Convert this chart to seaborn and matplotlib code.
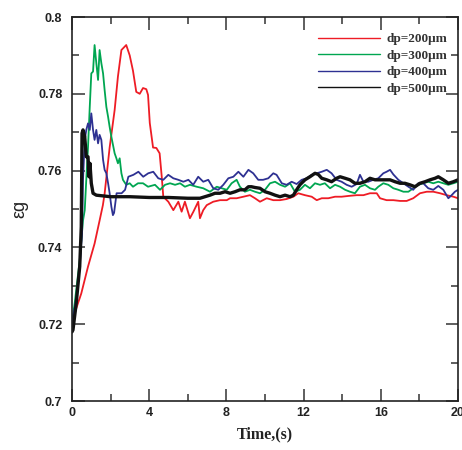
import numpy as np
import pandas as pd
import seaborn as sns
import matplotlib
matplotlib.use("Agg")
import matplotlib.pyplot as plt
from matplotlib.ticker import MultipleLocator

# Gas volume fraction vs time for four particle diameters
t_200 = [0, 0.14, 0.48, 0.83, 1.17, 1.43, 1.6, 1.69, 1.95, 2.21, 2.38, 2.56, 2.81, 2.99, 3.16,
         3.33, 3.51, 3.68, 3.85, 3.94, 4.03, 4.2, 4.37, 4.54, 4.65, 4.73, 4.99, 5.25, 5.51, 5.68,
         5.85, 6.11, 6.29, 6.54, 6.63, 6.8, 6.98, 7.32, 7.67, 8.02, 8.19, 8.53, 8.88, 9.22, 9.48,
         9.74, 10.09, 10.43, 10.78, 11.12, 11.47, 11.72, 12.07, 12.42, 12.68, 12.94, 13.28, 13.63,
         13.97, 14.32, 14.75, 15.1, 15.44, 15.79, 15.96, 16.3, 16.65, 17.0, 17.34, 17.68, 18.03,
         18.38, 18.72, 19.07, 19.41, 19.76, 20.0]
eg_200 = [0.7205, 0.7229, 0.728, 0.735, 0.741, 0.747, 0.751, 0.754, 0.766, 0.7758, 0.7845, 0.7914,
          0.7927, 0.790, 0.786, 0.7805, 0.780, 0.7815, 0.7812, 0.7797, 0.7724, 0.766, 0.7659,
          0.7645, 0.7584, 0.7532, 0.7519, 0.7497, 0.7519, 0.7493, 0.7519, 0.7476, 0.7493, 0.7519,
          0.7476, 0.7497, 0.751, 0.7519, 0.7523, 0.7523, 0.7528, 0.7528, 0.7532, 0.7536, 0.7528,
          0.7519, 0.7528, 0.7523, 0.7523, 0.7526, 0.7532, 0.7541, 0.7536, 0.7532, 0.7523, 0.7528,
          0.7528, 0.7532, 0.7532, 0.7534, 0.7536, 0.7536, 0.7541, 0.7541, 0.7528, 0.7523, 0.7523,
          0.7521, 0.7521, 0.7528, 0.7541, 0.7545, 0.7545, 0.7541, 0.7536, 0.7532, 0.7528]

t_300 = [0, 0.14, 0.40, 0.57, 0.66, 0.74, 0.83, 0.92, 1.0, 1.09, 1.17, 1.26, 1.35, 1.43, 1.52,
         1.61, 1.69, 1.78, 1.87, 1.95, 2.04, 2.21, 2.30, 2.38, 2.47, 2.56, 2.64, 2.81, 2.99, 3.16,
         3.42, 3.68, 3.94, 4.3, 4.56, 4.82, 5.08, 5.34, 5.6, 5.85, 6.11, 6.46, 6.8, 7.15, 7.5,
         7.76, 8.02, 8.27, 8.53, 8.7, 8.96, 9.22, 9.48, 9.74, 10.0, 10.26, 10.52, 10.78, 11.04,
         11.3, 11.55, 11.81, 12.07, 12.33, 12.59, 12.85, 13.1, 13.37, 13.63, 13.89, 14.15, 14.4,
         14.66, 14.92, 15.18, 15.44, 15.7, 15.87, 16.13, 16.39, 16.65, 16.91, 17.17, 17.43, 17.68,
         17.94, 18.2, 18.46, 18.72, 18.98, 19.24, 19.5, 19.76, 20.0]
eg_300 = [0.7205, 0.7255, 0.7367, 0.747, 0.7497, 0.7576, 0.7662, 0.7766, 0.7853, 0.7858, 0.7927,
          0.788, 0.7836, 0.7914, 0.788, 0.7853, 0.781, 0.7766, 0.774, 0.7714, 0.7688, 0.7645,
          0.7632, 0.7619, 0.7632, 0.7593, 0.7576, 0.7563, 0.7567, 0.7558, 0.7567, 0.7567, 0.7558,
          0.7563, 0.755, 0.7563, 0.7567, 0.7563, 0.7567, 0.7558, 0.7563, 0.7558, 0.7554, 0.7545,
          0.7558, 0.7554, 0.755, 0.7567, 0.7576, 0.7558, 0.7545, 0.755, 0.7545, 0.7541, 0.755,
          0.7567, 0.7571, 0.7563, 0.7558, 0.7567, 0.7545, 0.755, 0.7563, 0.7554, 0.7567, 0.7563,
          0.7567, 0.7554, 0.7563, 0.7558, 0.755, 0.7545, 0.7541, 0.7558, 0.7563, 0.7554, 0.755,
          0.7558, 0.7567, 0.7563, 0.7554, 0.755, 0.7545, 0.7545, 0.7554, 0.7563, 0.7567, 0.7571,
          0.7567, 0.7571, 0.7567, 0.7563, 0.7567, 0.7571]

t_400 = [0, 0.22, 0.40, 0.52, 0.57, 0.66, 0.74, 0.83, 0.92, 1.0, 1.09, 1.17, 1.26, 1.35, 1.43,
         1.52, 1.61, 1.69, 1.78, 1.87, 1.95, 2.04, 2.12, 2.18, 2.31, 2.57, 2.75, 2.92, 3.18, 3.44,
         3.69, 3.95, 4.21, 4.47, 4.73, 4.99, 5.25, 5.51, 5.77, 6.03, 6.28, 6.54, 6.8, 7.06, 7.32,
         7.58, 7.84, 8.1, 8.36, 8.62, 8.88, 9.14, 9.39, 9.65, 9.9, 10.17, 10.43, 10.6, 10.87,
         11.12, 11.38, 11.64, 11.9, 12.16, 12.42, 12.68, 12.94, 13.2, 13.45, 13.71, 13.97, 14.23,
         14.49, 14.75, 14.92, 15.1, 15.35, 15.61, 15.87, 16.13, 16.3, 16.48, 16.65, 16.91, 17.17,
         17.43, 17.68, 17.94, 18.2, 18.46, 18.72, 18.98, 19.24, 19.5, 19.67, 19.84, 20.0]
eg_400 = [0.7205, 0.7263, 0.735, 0.7437, 0.7576, 0.768, 0.7706, 0.7723, 0.7706, 0.7749, 0.7706,
          0.768, 0.7706, 0.7671, 0.7693, 0.768, 0.7628, 0.7602, 0.7593, 0.7567, 0.7541, 0.7506,
          0.7484, 0.749, 0.7541, 0.7541, 0.755, 0.7584, 0.7589, 0.7597, 0.7584, 0.7593, 0.7597,
          0.758, 0.7576, 0.7589, 0.758, 0.7576, 0.7571, 0.7576, 0.7563, 0.7584, 0.7571, 0.7576,
          0.7554, 0.755, 0.7563, 0.758, 0.7584, 0.7597, 0.7584, 0.7602, 0.7593, 0.7576, 0.7576,
          0.758, 0.7593, 0.7589, 0.7567, 0.7563, 0.7571, 0.7565, 0.7576, 0.758, 0.7589, 0.7593,
          0.7597, 0.7602, 0.7593, 0.7576, 0.7571, 0.7563, 0.7558, 0.7565, 0.7589, 0.7571, 0.7571,
          0.7576, 0.758, 0.7593, 0.7597, 0.7602, 0.759, 0.7576, 0.7567, 0.7558, 0.755, 0.7567,
          0.7567, 0.7554, 0.755, 0.756, 0.755, 0.7528, 0.7536, 0.7545, 0.755]

t_500 = [0, 0.05, 0.22, 0.40, 0.48, 0.52, 0.57, 0.66, 0.74, 0.83, 0.88, 0.93, 1.0, 1.09, 1.26,
         2.0, 3.0, 4.0, 5.0, 6.0, 6.63, 6.89, 7.15, 7.41, 7.67, 7.93, 8.19, 8.45, 8.7, 8.96,
         9.14, 9.3, 9.48, 9.74, 10.0, 10.26, 10.52, 10.78, 11.04, 11.3, 11.47, 11.64, 11.81,
         12.07, 12.33, 12.59, 12.76, 12.94, 13.2, 13.45, 13.71, 13.89, 14.15, 14.4, 14.66, 14.92,
         15.18, 15.44, 15.7, 15.96, 16.22, 16.48, 16.74, 17.0, 17.25, 17.51, 17.77, 18.03, 18.29,
         18.55, 18.81, 18.98, 19.24, 19.5, 19.76, 20.0]
eg_500 = [0.718, 0.7185, 0.7255, 0.735, 0.7454, 0.7697, 0.7706, 0.7688, 0.7636, 0.7636, 0.7584,
          0.7619, 0.7567, 0.7541, 0.7536, 0.7532, 0.7532, 0.753, 0.753, 0.7528, 0.7528, 0.7532,
          0.7536, 0.7541, 0.7541, 0.7545, 0.7541, 0.7545, 0.755, 0.755, 0.7558, 0.7558, 0.7556,
          0.7554, 0.7545, 0.7541, 0.7536, 0.7532, 0.7536, 0.7532, 0.7536, 0.755, 0.7563, 0.7576,
          0.7584, 0.7593, 0.759, 0.758, 0.7576, 0.7571, 0.758, 0.7584, 0.758, 0.7576, 0.7567,
          0.7567, 0.7571, 0.758, 0.7576, 0.7576, 0.7576, 0.7576, 0.7571, 0.7567, 0.7567, 0.7563,
          0.7558, 0.7567, 0.7571, 0.7576, 0.758, 0.7584, 0.7576, 0.7567, 0.7571, 0.7576]

labels = ["dp=200\u03bcm", "dp=300\u03bcm", "dp=400\u03bcm", "dp=500\u03bcm"]
colors = ["#ee1c25", "#00a651", "#2e3192", "#111111"]
widths = [1.3, 1.3, 1.3, 2.4]

frames = []
for lab, tt, ee in zip(labels, [t_200, t_300, t_400, t_500], [eg_200, eg_300, eg_400, eg_500]):
    assert len(tt) == len(ee), lab
    frames.append(pd.DataFrame({"time": tt, "eg": ee, "case": lab}))
df = pd.concat(frames, ignore_index=True)

sns.set_style("ticks")
W, H = 462, 450
fig = plt.figure(figsize=(W / 100, H / 100), dpi=100)
ax = fig.add_axes([72 / W, 1 - 401 / H, (458 - 72) / W, (401 - 17) / H])

for lab, col, lw in zip(labels, colors, widths):
    sub = df[df["case"] == lab]
    sns.lineplot(data=sub, x="time", y="eg", ax=ax, color=col, linewidth=lw,
                 sort=False, estimator=None, label=lab)

ax.set_xlim(0, 20)
ax.set_ylim(0.7, 0.8)
ax.xaxis.set_major_locator(MultipleLocator(4))
ax.xaxis.set_minor_locator(MultipleLocator(2))
ax.yaxis.set_major_locator(MultipleLocator(0.02))
ax.yaxis.set_minor_locator(MultipleLocator(0.01))
ax.tick_params(which="both", direction="in", top=True, right=True, width=1.1, color="#333333")
ax.tick_params(which="major", length=9)
ax.tick_params(which="minor", length=5)
ax.tick_params(axis="y", pad=7)
ax.tick_params(axis="x", pad=4)
for s in ax.spines.values():
    s.set_linewidth(1.2)
    s.set_color("#222222")

ax.set_xticks([0, 4, 8, 12, 16, 20])
ax.set_xticklabels(["0", "4", "8", "12", "16", "20"])
ax.set_yticks([0.7, 0.72, 0.74, 0.76, 0.78, 0.8])
ax.set_yticklabels(["0.7", "0.72", "0.74", "0.76", "0.78", "0.8"])
for lbl in ax.get_xticklabels() + ax.get_yticklabels():
    lbl.set_fontfamily(["Liberation Sans", "DejaVu Sans"])
    lbl.set_fontweight("bold")
    lbl.set_fontsize(9)
    lbl.set_color("#222222")

ax.set_xlabel("Time,(s)", fontfamily=["Liberation Serif", "DejaVu Serif"], fontweight="bold",
              fontsize=11.5, labelpad=6, color="#222222")
ax.set_ylabel("\u03b5g", fontfamily=["Liberation Sans", "DejaVu Sans"], fontsize=13,
              labelpad=7, color="#222222")

leg = ax.legend(loc="upper right", bbox_to_anchor=(0.985, 0.972), frameon=False,
                handlelength=4.7, handletextpad=0.45, labelspacing=0.33, borderaxespad=0.0,
                prop={"family": ["Liberation Serif", "DejaVu Serif"], "weight": "bold", "size": 9.5})
for h in leg.get_lines():
    h.set_linewidth(1.0)
for txt in leg.get_texts():
    txt.set_color("#333333")

fig.savefig("out.png", dpi=100)
